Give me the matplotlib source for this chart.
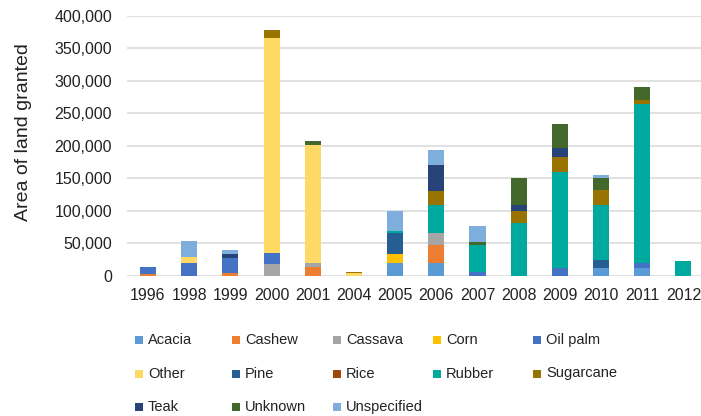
import matplotlib
matplotlib.use("Agg")
import matplotlib.pyplot as plt
from matplotlib.patches import Rectangle
from matplotlib.ticker import FuncFormatter
import numpy as np

plt.rcParams['font.family'] = ['Liberation Sans', 'DejaVu Sans']

years = ['1996', '1998', '1999', '2000', '2001', '2004', '2005',
         '2006', '2007', '2008', '2009', '2010', '2011', '2012']

acacia      = [0, 0, 0, 0, 0, 0, 19000, 20000, 0, 0, 0, 11300, 11300, 0]
cashew      = [2500, 0, 4500, 0, 12800, 0, 0, 27200, 0, 0, 0, 0, 0, 0]
cassava     = [0, 0, 0, 18000, 6200, 0, 0, 18000, 0, 0, 0, 0, 0, 0]
corn        = [0, 0, 0, 0, 0, 0, 13900, 0, 0, 0, 0, 0, 0, 0]
oil_palm    = [10500, 20000, 22000, 17500, 0, 0, 0, 0, 5000, 0, 12300, 0, 8200, 0]
other       = [0, 9200, 0, 331000, 182300, 4500, 0, 0, 0, 0, 0, 0, 0, 0]
pine        = [0, 0, 0, 0, 0, 0, 33400, 0, 0, 0, 0, 12300, 0, 0]
rice        = [0, 0, 0, 0, 0, 0, 0, 0, 0, 0, 0, 0, 0, 0]
rubber      = [0, 0, 0, 0, 0, 0, 3000, 44200, 42100, 80600, 146900, 85800, 245500, 23100]
sugarcane   = [0, 0, 0, 11800, 0, 1500, 0, 21000, 0, 19500, 24100, 22600, 5700, 0]
teak        = [0, 0, 7200, 0, 0, 0, 0, 40600, 0, 9200, 13400, 0, 0, 0]
unknown     = [0, 0, 0, 0, 6200, 0, 0, 0, 4100, 40600, 37500, 18500, 19500, 0]
unspecified = [0, 24000, 6200, 0, 0, 0, 30800, 23100, 24700, 0, 0, 4100, 0, 0]

crops = ['Acacia', 'Cashew', 'Cassava', 'Corn', 'Oil palm', 'Other', 'Pine',
         'Rice', 'Rubber', 'Sugarcane', 'Teak', 'Unknown', 'Unspecified']
series = [acacia, cashew, cassava, corn, oil_palm, other, pine,
          rice, rubber, sugarcane, teak, unknown, unspecified]
colors = ['#5B9BD5', '#ED7D31', '#A5A5A5', '#FFC000', '#4472C4', '#FFD966',
          '#255E91', '#9E480E', '#00A99D', '#997300', '#264478', '#43682B',
          '#7EAEDC']

W, H = 701, 416
fig = plt.figure(figsize=(W / 100, H / 100), dpi=100)
ax = fig.add_axes([127.4 / W, 1 - 275.7 / H, 576.6 / W, (275.7 - 16) / H])

x = np.arange(len(years))
bottom = np.zeros(len(years))
for name, vals, col in zip(crops, series, colors):
    vals = np.array(vals, dtype=float)
    ax.bar(x, vals, bottom=bottom, width=0.39, color=col, linewidth=0,
           zorder=3, label=name)
    bottom += vals

ax.set_xlim(-0.5, len(years) - 0.5)
ax.set_ylim(0, 400000)
ax.set_yticks(np.arange(0, 400001, 50000))
ax.yaxis.set_major_formatter(FuncFormatter(lambda v, p: f'{int(v):,}'))
ax.set_xticks(x)
ax.set_xticklabels(years)
ax.grid(axis='y', color='#D9D9D9', linewidth=1.1, zorder=0)
for s in ax.spines.values():
    s.set_visible(False)
ax.tick_params(axis='both', length=0, labelsize=11.5, colors='#222222')
ax.tick_params(axis='y', pad=11)
ax.tick_params(axis='x', pad=9)
ax.set_ylabel('Area of land granted', fontsize=14, color='#222222')
ax.yaxis.set_label_coords(-0.166, 0.555)

# legend laid out in rows, Excel style
col_x = [135, 232, 333, 433, 533]
row_y = [340, 373.5, 407]
sq = 8
for i, (name, col) in enumerate(zip(crops, colors)):
    r, c = divmod(i, 5)
    xs, yc = col_x[c], row_y[r]
    fig.add_artist(Rectangle((xs / W, 1 - (yc + sq / 2) / H), sq / W, sq / H,
                             transform=fig.transFigure, color=col, lw=0))
    fig.text((xs + 13) / W, 1 - yc / H, name, fontsize=10.5, va='center',
             ha='left', color='#222222')

fig.savefig('out.png', dpi=100)
